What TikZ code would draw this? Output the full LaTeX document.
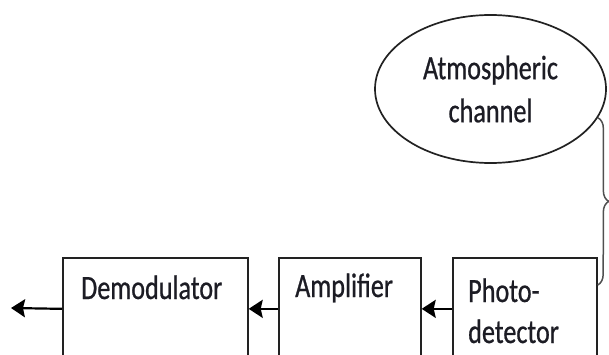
\documentclass[tikz,border=0pt]{standalone}
\usepackage{fontspec}
\newfontfamily\lblfont{Carlito}[FakeStretch=0.77,FakeBold=0.7]
\usetikzlibrary{arrows.meta,shapes.geometric,decorations.pathreplacing}
\definecolor{ink}{HTML}{1C1C24}
\definecolor{edge}{HTML}{222222}
\definecolor{bracegray}{HTML}{505050}
\tikzset{
  blockbox/.style={draw=edge, line width=1.7pt, rectangle, anchor=north west,
    minimum height=102pt, inner sep=0pt},
  lbl/.style={text=ink, font=\lblfont\fontsize{34}{43}\selectfont, inner sep=0pt},
  flow/.style={draw=black, line width=2.2pt,
    -{Stealth[length=14pt,width=18pt,inset=2pt]}},
  cloud/.style={draw=edge, line width=1.7pt, ellipse, minimum width=231pt,
    minimum height=148pt, inner sep=0pt, align=center, text=ink,
    font=\lblfont\fontsize{34}{43}\selectfont},
  bracelink/.style={draw=bracegray, line width=1.5pt, decorate,
    decoration={brace, amplitude=11pt}},
}
\begin{document}
\begin{tikzpicture}[x=1pt, y=-1pt]
  \useasboundingbox (0,0) rectangle (609,355);
  \clip (0,0) rectangle (609,355);

  % receiver chain blocks
  \node[blockbox, minimum width=185pt] (demod) at (62,257) {};
  \node[blockbox, minimum width=142pt] (amp)   at (278,257) {};
  \node[blockbox, minimum width=144pt] (photo) at (452,257) {};

  % block labels
  \node[lbl, anchor=base west] (demodtxt) at (81,299) {Demodulator};
  \node[lbl, anchor=base west] (amptxt)   at (295,297) {Amplifier};
  \node[lbl, anchor=base west] (phototxt1) at (468,302) {Photo-};
  \node[lbl, anchor=base west] (phototxt2) at (468,343) {detector};

  % channel
  \node[cloud] (atm) at (490.5,89) {Atmospheric\\channel};

  % signal flow
  \coordinate (out) at (11,308);
  \draw[flow] (photo.west) -- (amp.east);
  \draw[flow] (amp.west) -- (demod.east);
  \draw[flow] (demod.west) -- (out);

  % channel feeding the photodetector
  \coordinate (pdin) at (photo.north east |- 0,285);
  \draw[bracelink] (atm.-15) -- (pdin);
\end{tikzpicture}
\end{document}
